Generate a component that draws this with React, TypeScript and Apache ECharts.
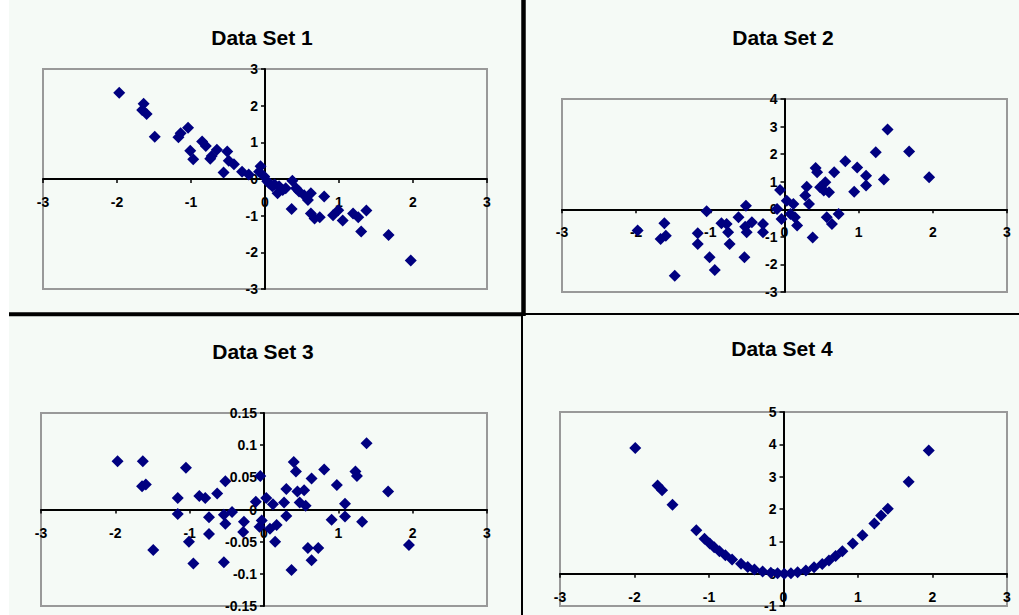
import React, { useEffect, useRef } from "react";
import * as echarts from "echarts";

const titles = ["Data Set 1", "Data Set 2", "Data Set 3", "Data Set 4"];

const dataSet1: [number, number][] = [
  [-1.97, 2.35], [-1.64, 2.05], [-1.66, 1.88], [-1.6, 1.77], [-1.49, 1.15], [-1.17, 1.14],
  [-1.14, 1.25], [-1.04, 1.4], [-1.01, 0.77], [-0.97, 0.54], [-0.85, 1.02], [-0.8, 0.9],
  [-0.72, 0.63], [-0.74, 0.55], [-0.65, 0.8], [-0.51, 0.75], [-0.49, 0.5], [-0.56, 0.18],
  [-0.42, 0.4], [-0.31, 0.2], [-0.22, 0.12], [-0.06, 0.35], [-0.08, 0.2], [-0.01, 0.07],
  [0.03, -0.06], [0.06, -0.12], [0.1, -0.2], [0.13, -0.15], [0.17, -0.39], [0.19, -0.2],
  [0.24, -0.3], [0.28, -0.25], [0.37, -0.05], [0.42, -0.25], [0.46, -0.34], [0.53, -0.44],
  [0.62, -0.39], [0.58, -0.57], [0.8, -0.48], [0.36, -0.82], [0.62, -0.94], [0.67, -1.08],
  [0.74, -1.04], [0.92, -0.99], [0.99, -0.85], [1.05, -1.13], [1.19, -0.94], [1.26, -1.04],
  [1.37, -0.86], [1.3, -1.43], [1.67, -1.53], [1.97, -2.22],
];

const dataSet2: [number, number][] = [
  [-1.98, -0.77], [-1.62, -0.51], [-1.6, -0.96], [-1.67, -1.08], [-1.48, -2.41], [-1.17, -0.87],
  [-1.17, -1.26], [-1.05, -0.07], [-1.01, -1.74], [-0.94, -2.2], [-0.85, -0.51], [-0.78, -0.53],
  [-0.76, -0.83], [-0.74, -1.26], [-0.62, -0.29], [-0.52, 0.13], [-0.53, -0.63], [-0.51, -0.83],
  [-0.44, -0.47], [-0.29, -0.53], [-0.29, -0.83], [-0.54, -1.74], [-0.06, 0.7], [-0.1, 0.01],
  [-0.04, -0.35], [0.03, 0.31], [0.12, 0.19], [0.08, -0.17], [0.17, -0.59], [0.14, -0.29],
  [0.28, 0.5], [0.3, 0.82], [0.33, 0.19], [0.42, 1.5], [0.44, 1.34], [0.48, 0.8],
  [0.55, 0.98], [0.53, 0.68], [0.6, 0.62], [0.57, -0.29], [0.64, -0.53], [0.73, -0.17],
  [0.67, 1.34], [0.38, -1.02], [0.82, 1.74], [0.94, 0.64], [0.98, 1.52], [1.1, 1.22],
  [1.1, 0.86], [1.23, 2.07], [1.34, 1.08], [1.39, 2.89], [1.68, 2.1], [1.95, 1.16],
];

const dataSet3: [number, number][] = [
  [-1.97, 0.075], [-1.63, 0.075], [-1.64, 0.036], [-1.59, 0.039], [-1.49, -0.063], [-1.16, 0.018],
  [-1.16, -0.007], [-1.05, 0.065], [-1.01, -0.05], [-0.95, -0.084], [-0.87, 0.021], [-0.79, 0.018],
  [-0.74, -0.012], [-0.74, -0.038], [-0.63, 0.025], [-0.52, 0.044], [-0.54, -0.008], [-0.52, -0.022],
  [-0.54, -0.082], [-0.43, -0.004], [-0.27, -0.019], [-0.28, -0.035], [-0.11, 0.012], [-0.05, 0.052],
  [-0.03, -0.017], [-0.06, -0.027], [0.03, 0.018], [0.12, 0.008], [0.08, -0.03], [0.17, -0.024],
  [0.15, -0.05], [0.27, 0.011], [0.3, 0.032], [0.3, -0.01], [0.4, 0.074], [0.43, 0.059],
  [0.45, 0.028], [0.54, 0.03], [0.48, 0.011], [0.56, 0.006], [0.64, 0.048], [0.37, -0.094],
  [0.59, -0.06], [0.73, -0.06], [0.64, -0.079], [0.81, 0.062], [0.91, -0.016], [0.98, 0.038],
  [1.09, 0.009], [1.09, -0.011], [1.23, 0.059], [1.25, 0.052], [1.32, -0.019], [1.38, 0.103],
  [1.67, 0.028], [1.95, -0.055],
];

const dataSet4: [number, number][] = [
  [-1.99, 3.89], [-1.69, 2.73], [-1.63, 2.58], [-1.49, 2.13], [-1.17, 1.34], [-1.06, 1.08],
  [-0.99, 0.93], [-0.93, 0.82], [-0.86, 0.69], [-0.78, 0.57], [-0.69, 0.44], [-0.57, 0.31],
  [-0.48, 0.21], [-0.39, 0.13], [-0.28, 0.07], [-0.17, 0.03], [-0.08, 0.01], [0.01, 0.0],
  [0.1, 0.01], [0.19, 0.04], [0.3, 0.1], [0.41, 0.2], [0.52, 0.3], [0.61, 0.41],
  [0.7, 0.55], [0.79, 0.69], [0.93, 0.93], [1.06, 1.19], [1.22, 1.55], [1.31, 1.8],
  [1.4, 2.01], [1.68, 2.84], [1.95, 3.81],
];

const xMin = -3;
const xMax = 3;
const yMins = [-3, -3, -0.15, -1];
const yMaxs = [3, 4, 0.15, 5];
const yIntervals = [1, 1, 0.05, 1];

const FONT = "'Liberation Sans', Arial, sans-serif";

export default function App() {
  const ref = useRef<HTMLDivElement>(null);
  useEffect(() => {
    if (!ref.current) return;
    const chart = echarts.init(ref.current, undefined, { renderer: "svg" });
    const grids = [
      { left: 43, top: 69, width: 444, height: 220 },
      { left: 562, top: 99, width: 445, height: 193 },
      { left: 41, top: 413, width: 446, height: 193 },
      { left: 560, top: 412, width: 447, height: 194 },
    ];
    const titlePos = [
      [262, 37],
      [783, 37],
      [263, 351],
      [782, 348],
    ];
    const sets = [dataSet1, dataSet2, dataSet3, dataSet4];
    const axisLine = { onZero: false, lineStyle: { color: "#000", width: 2 } };
    const axisTick = { show: true, length: 4, lineStyle: { color: "#000", width: 1.5 } };
    const labelBase = { color: "#000", fontSize: 14, fontWeight: "bold", fontFamily: FONT };
    chart.setOption({
      animation: false,
      backgroundColor: "#f5faf6",
      grid: grids.map((g) => ({
        ...g,
        show: true,
        borderColor: "#999",
        borderWidth: 2,
        backgroundColor: "transparent",
        containLabel: false,
      })),
      xAxis: grids.map((g, i) => ({
        gridIndex: i,
        type: "value",
        position: "bottom",
        min: xMin,
        max: xMax,
        interval: 1,
        // place the axis on the y = 0 line
        offset: -(g.height * (0 - yMins[i])) / (yMaxs[i] - yMins[i]),
        axisLine,
        axisTick,
        splitLine: { show: false },
        axisLabel: { ...labelBase, margin: 16 },
      })),
      yAxis: grids.map((g, i) => ({
        gridIndex: i,
        type: "value",
        position: "left",
        min: yMins[i],
        max: yMaxs[i],
        interval: yIntervals[i],
        // place the axis on the x = 0 line
        offset: -(g.width * (0 - xMin)) / (xMax - xMin),
        axisLine,
        axisTick,
        splitLine: { show: false },
        axisLabel: { ...labelBase, margin: 7 },
      })),
      series: sets.map((d, i) => ({
        type: "scatter",
        xAxisIndex: i,
        yAxisIndex: i,
        data: d,
        symbol: "diamond",
        symbolSize: 12,
        itemStyle: { color: "#000080", opacity: 1 },
      })),
      graphic: [
        { type: "rect", shape: { x: 0, y: 0, width: 9, height: 615 }, style: { fill: "#ffffff" }, silent: true },
        ...titles.map((t, i) => ({
          type: "text",
          x: titlePos[i][0],
          y: titlePos[i][1],
          style: {
            text: t,
            fill: "#000",
            font: `bold 21px ${FONT}`,
            textAlign: "center",
            textVerticalAlign: "middle",
          },
          silent: true,
        })),
        { type: "line", shape: { x1: 523.5, y1: 0, x2: 523.5, y2: 316 }, style: { stroke: "#000", lineWidth: 4.5 }, silent: true },
        { type: "line", shape: { x1: 522, y1: 314, x2: 522, y2: 615 }, style: { stroke: "#000", lineWidth: 2 }, silent: true },
        { type: "line", shape: { x1: 9, y1: 314.3, x2: 523, y2: 314.3 }, style: { stroke: "#000", lineWidth: 4 }, silent: true },
        { type: "line", shape: { x1: 523, y1: 314, x2: 1019, y2: 314 }, style: { stroke: "#000", lineWidth: 2 }, silent: true },
      ],
    });
    return () => chart.dispose();
  }, []);
  return (
    <div
      ref={ref}
      style={{ position: "absolute", left: 0, top: 0, width: 1019, height: 615 }}
    />
  );
}
